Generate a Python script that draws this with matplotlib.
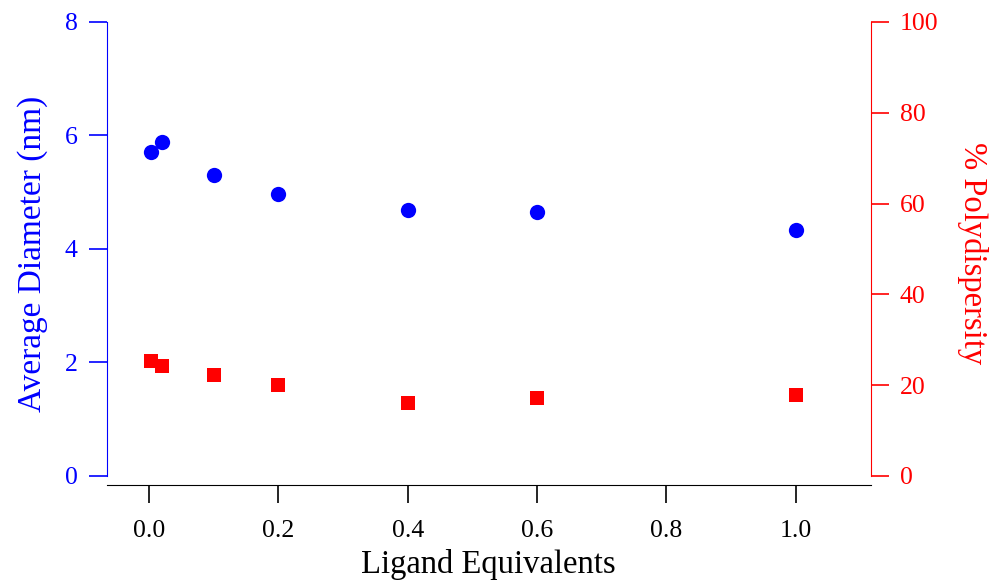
import matplotlib
matplotlib.use("Agg")
import matplotlib.pyplot as plt

ligand_eq = [0.003, 0.02, 0.1, 0.2, 0.4, 0.6, 1.0]
avg_diameter = [5.71, 5.89, 5.31, 4.97, 4.69, 4.66, 4.33]
polydispersity = [25.3, 24.2, 22.2, 20.0, 16.0, 17.1, 17.8]

x_ticks = [0.0, 0.2, 0.4, 0.6, 0.8, 1.0]
left_ticks = [0, 2, 4, 6, 8]
right_ticks = [0, 20, 40, 60, 80, 100]

plt.rcParams['font.family'] = ['Liberation Serif', 'DejaVu Serif']

fig = plt.figure(figsize=(10, 5.84), dpi=100)
ax = fig.add_axes([0.1067, 1 - 485 / 584, 0.764, (485 - 22) / 584])
ax2 = ax.twinx()

blue = '#0000ff'
red = '#ff0000'

ax.plot(ligand_eq, avg_diameter, 'o', color=blue, markersize=11, markeredgewidth=0, zorder=3)
ax2.plot(ligand_eq, polydispersity, 's', color=red, markersize=10.5, markeredgewidth=0, zorder=3)

ax.set_xlim(-0.0654, 1.116)
ax.set_ylim(-0.159, 8)
ax2.set_ylim(-0.159 * 12.5, 100)

ax.set_xticks(x_ticks)
ax.set_xticklabels([f"{v:.1f}" for v in x_ticks])
ax.set_yticks(left_ticks)
ax2.set_yticks(right_ticks)

for a in (ax, ax2):
    a.spines['top'].set_visible(False)

ax.spines['left'].set_color(blue)
ax.spines['left'].set_bounds(0, 8)
ax2.spines['right'].set_color(red)
ax2.spines['right'].set_bounds(0, 100)
ax2.spines['left'].set_visible(False)
ax2.spines['bottom'].set_visible(False)
ax.spines['right'].set_visible(False)

ax.tick_params(axis='x', direction='out', length=13, width=1.2, colors='black', labelsize=18.5, pad=12)
ax.tick_params(axis='y', direction='out', length=13, width=1.2, colors=blue, labelsize=18.5, pad=8)
ax2.tick_params(axis='y', direction='out', length=13, width=1.2, colors=red, labelsize=18.5, pad=8)

ax.set_xlabel('Ligand Equivalents', fontsize=23.5, color='black', labelpad=5)
ax.set_ylabel('Average Diameter (nm)', fontsize=24, color=blue, labelpad=12)
ax2.set_ylabel('% Polydispersity', fontsize=23.5, color=red, rotation=270, labelpad=36)

fig.savefig('out.png', dpi=100)
